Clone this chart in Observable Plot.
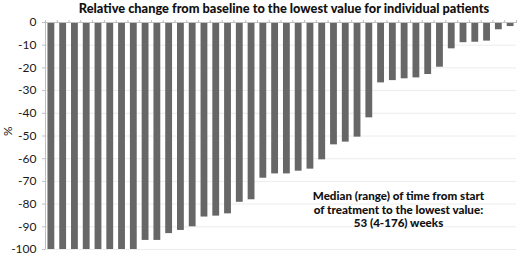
<!DOCTYPE html>
<html><head><meta charset="utf-8">
<script src="https://cdn.jsdelivr.net/npm/d3@7"></script>
<script src="https://cdn.jsdelivr.net/npm/@observablehq/plot@0.6"></script>
<style>body{margin:0;background:#fff}</style>
</head><body><div id="chart"></div>
<script>
const title = "Relative change from baseline to the lowest value for individual patients";
const changes = [-100, -100, -100, -100, -100, -100, -100, -100, -96, -96,
  -93, -91.6, -90, -85.7, -85.3, -84.3, -79.2, -78.1, -68.6, -66.7,
  -66.7, -65.5, -64.6, -60.5, -53.9, -52.7, -50.5, -42, -26.6, -25.6,
  -24.8, -24.4, -22.9, -19.7, -11.6, -8.9, -8.7, -8.2, -3.2, -1.8];
const yTicks = [0, -10, -20, -30, -40, -50, -60, -70, -80, -90, -100];
const yLabel = "%";
const noteLines = ["Median (range) of time from start", "of treatment to the lowest value:", "53 (4-176) weeks"];

const patients = changes.map((v, i) => ({patient: i, change: v}));
const boundaries = d3.range(0, changes.length + 1);

const chart = Plot.plot({
  width: 520, height: 255,
  marginTop: 22, marginBottom: 6, marginLeft: 45, marginRight: 4,
  style: {fontFamily: "Lato, sans-serif", fontSize: "12px", color: "#1a1a1a", background: "#fff"},
  x: {domain: [0, changes.length], axis: null},
  y: {domain: [-100, 0], axis: null},
  marks: [
    Plot.gridY(yTicks, {stroke: "#ececec", strokeOpacity: 1}),
    Plot.rectY(patients, {x1: d => d.patient + 0.21, x2: d => d.patient + 0.79, y: "change", fill: "#676767"}),
    Plot.ruleY([0], {stroke: "#bfbfbf"}),
    Plot.ruleX([0], {stroke: "#bfbfbf"}),
    Plot.axisX(boundaries, {anchor: "top", tickSize: 3, tickFormat: () => "", stroke: "#bfbfbf", label: null}),
    Plot.axisY(yTicks, {anchor: "left", tickSize: 3, tickPadding: 6, tickFormat: d => String(d), stroke: "#bfbfbf", fill: "#1a1a1a", label: null, fontSize: 12}),
    Plot.text([yLabel], {frameAnchor: "left", dx: -37, rotate: -90, fontSize: 12, fill: "#1a1a1a"}),
    Plot.text([title], {frameAnchor: "top", lineAnchor: "middle", dx: 3, dy: -14, fontWeight: 900, fontSize: 12.8, fill: "#111"}),
    Plot.text([noteLines.join("\n")], {frameAnchor: "bottom", lineAnchor: "middle", dx: 117.5, dy: -40, fontWeight: 900, fontSize: 11.6, lineHeight: 1.15, fill: "#111"})
  ]
});
document.getElementById("chart").append(chart);
</script>
</body></html>
